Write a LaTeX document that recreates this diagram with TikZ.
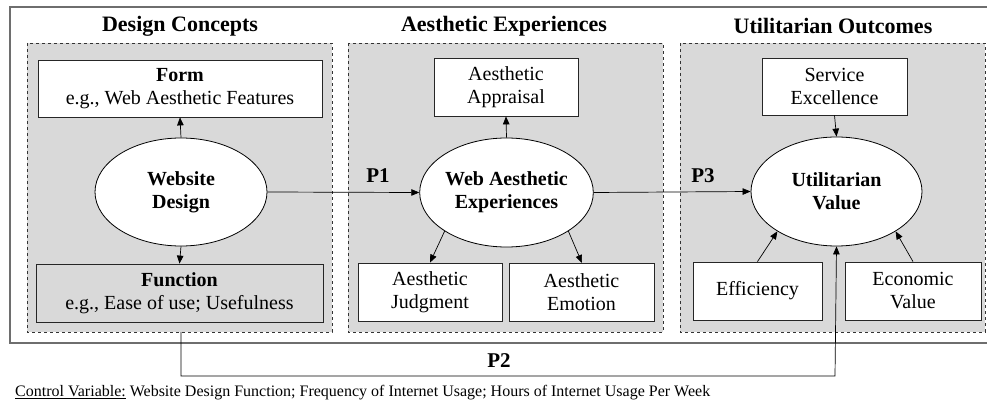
\documentclass[tikz,border=0pt]{standalone}
\usepackage{fontspec}
\setmainfont{Liberation Serif}
\usetikzlibrary{arrows.meta,shapes.geometric}
\definecolor{panelgray}{RGB}{217,217,217}
\definecolor{framegray}{RGB}{110,110,110}
\begin{document}
\begin{tikzpicture}[x=1pt,y=-1pt,
  panel/.style={draw=black!80,dashed,fill=panelgray,line width=0.6pt},
  box/.style={draw=black!85,fill=white,line width=0.8pt,align=center,inner sep=0pt,font=\fontsize{20}{23}\selectfont},
  ell/.style={ellipse,draw=black,fill=white,line width=0.8pt,inner sep=0pt,align=center,font=\fontsize{20}{23}\selectfont\bfseries},
  ttl/.style={font=\fontsize{22}{24}\selectfont\bfseries},
  plab/.style={font=\fontsize{21}{23}\selectfont\bfseries,inner sep=0pt},
  arr/.style={-{Triangle[length=8pt,width=6.5pt]},line width=0.7pt}]
\useasboundingbox (0,0) rectangle (987,403);
% outer frame
\draw[framegray,line width=1.2pt] (1000,7) -- (10,7) -- (10,343) -- (1000,343);
% panels
\draw[panel] (27,43) rectangle (332,332);
\draw[panel] (348,43) rectangle (663,332);
\draw[panel] (680,43) rectangle (985,332);
\coordinate (p1b) at (181,332);
% titles
\node[ttl] (t1) at (180,26) {Design Concepts};
\node[ttl] (t2) at (504,26) {Aesthetic Experiences};
\node[ttl] (t3) at (833,26) {Utilitarian Outcomes};
% panel 1
\node[box,minimum width=284pt,minimum height=57pt] (form) at (180,88.5) {\textbf{Form}\\e.g., Web Aesthetic Features};
\node[ell,minimum width=172pt,minimum height=108pt] (wd) at (181,192) {Website\\Design};
\node[box,fill=panelgray,minimum width=287pt,minimum height=58pt] (func) at (179.5,293) {\textbf{Function}\\e.g., Ease of use; Usefulness};
% panel 2
\node[box,minimum width=144pt,minimum height=58pt] (app) at (506,87) {Aesthetic\\Appraisal};
\node[ell,minimum width=173pt,minimum height=109pt] (wae) at (506.5,192.5) {Web Aesthetic\\Experiences};
\node[box,minimum width=144pt,minimum height=58pt] (jud) at (430,292) {Aesthetic\\Judgment};
\node[box,minimum width=145pt,minimum height=58pt] (emo) at (581.5,292) {Aesthetic\\Emotion};
% panel 3
\node[box,minimum width=145pt,minimum height=57pt] (serv) at (834.5,86.5) {Service\\Excellence};
\node[ell,minimum width=171pt,minimum height=109pt] (uv) at (836.5,191.5) {Utilitarian\\Value};
\node[box,minimum width=129pt,minimum height=58pt] (eff) at (757.5,291) {Efficiency};
\node[box,minimum width=136pt,minimum height=58pt] (eco) at (913,291) {Economic\\Value};
% arrows
\draw[arr] (wd.north) -- (form.south);
\draw[arr] (wd.south) -- (func.north);
\draw[arr] (wae.north) -- (app.south);
\draw[arr] (wae.-148) -- (jud.north);
\coordinate (emoin) at (582,263);
\draw[arr] (wae.-32) -- (emoin);
\draw[arr] (serv.south) -- (uv.north);
\draw[arr] (eff.north) -- (uv.-146.6);
\draw[arr] (eco.north) -- (uv.-34.7);
\draw[arr] (wd.east) -- (wae.west);
\draw[arr] (wae.east) -- (uv.west);
\node[plab] (l1) at (378,176) {P1};
\node[plab] (l3) at (703,176) {P3};
\coordinate (c1) at (181,376);
\coordinate (c2) at (835,376);
\draw[arr] (p1b) -- (c1) -- (c2) -- (uv.south);
\node[plab] (l2) at (499,361) {P2};
% control variable
\node[anchor=west,inner sep=0pt,font=\fontsize{16}{18}\selectfont] (cv) at (15,393) {\underline{Control Variable:} Website Design Function; Frequency of Internet Usage; Hours of Internet Usage Per Week};
\end{tikzpicture}
\end{document}
